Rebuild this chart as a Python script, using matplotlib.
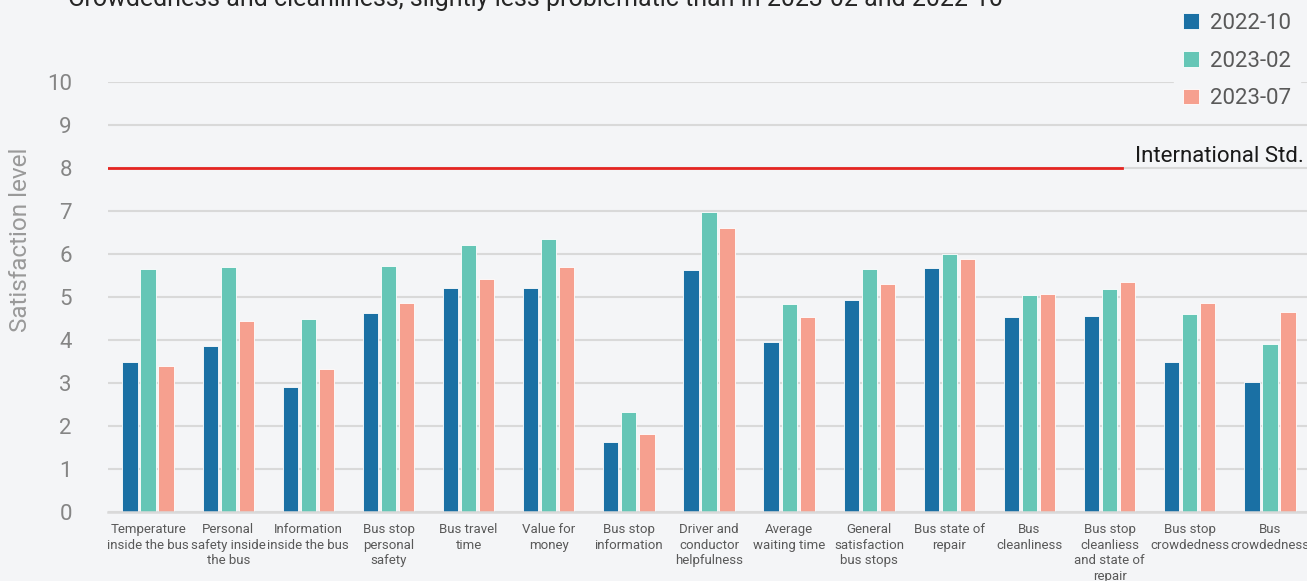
import matplotlib
matplotlib.use("Agg")
import matplotlib.pyplot as plt
import numpy as np
from matplotlib import font_manager

categories = [
    "Temperature\ninside the bus", "Personal\nsafety inside\nthe bus", "Information\ninside the bus",
    "Bus stop\npersonal\nsafety", "Bus travel\ntime", "Value for\nmoney", "Bus stop\ninformation",
    "Driver and\nconductor\nhelpfulness", "Average\nwaiting time", "General\nsatisfaction\nbus stops",
    "Bus state of\nrepair", "Bus\ncleanliness", "Bus stop\ncleanliess\nand state of\nrepair",
    "Bus stop\ncrowdedness", "Bus\ncrowdedness",
]
s_2022_10 = [3.48, 3.85, 2.91, 4.62, 5.22, 5.20, 1.63, 5.62, 3.95, 4.94, 5.67, 4.53, 4.55, 3.48, 3.02]
s_2023_02 = [5.64, 5.70, 4.50, 5.72, 6.22, 6.35, 2.33, 6.97, 4.84, 5.64, 6.01, 5.04, 5.18, 4.60, 3.90]
s_2023_07 = [3.40, 4.44, 3.33, 4.86, 5.41, 5.70, 1.81, 6.60, 4.53, 5.30, 5.88, 5.06, 5.36, 4.86, 4.65]
series_names = ["2022-10", "2023-02", "2023-07"]
intl_std = 8
title = "Crowdedness and cleanliness, slightly less problematic than in 2023-02 and 2022-10"

colors = ["#1a70a4", "#65c6b6", "#f6a08f"]
bg = "#f4f5f7"

names = {f.name for f in font_manager.fontManager.ttflist}
narrow = "Liberation Sans Narrow" if "Liberation Sans Narrow" in names else "Roboto"

W, H = 1307, 581
fig = plt.figure(figsize=(W / 100, H / 100), dpi=100, facecolor=bg)
ax = fig.add_axes([108 / W, 1 - 512 / H, 1202 / W, (512 - 82) / H])
ax.set_facecolor(bg)

x = np.arange(len(categories))
bw = 0.19
gap = 0.035
for i, (vals, c, n) in enumerate(zip([s_2022_10, s_2023_02, s_2023_07], colors, series_names)):
    ax.bar(x + (i - 1) * (bw + gap), vals, bw, color=c, label=n, edgecolor="#ffffff", linewidth=0.6, zorder=3)

ax.set_xlim(-0.5, len(categories) - 0.5)
ax.set_ylim(0, 10)
ax.set_yticks(range(0, 11))
ax.grid(axis="y", color="#d9d9d9", linewidth=1.5, zorder=0)
for sp in ["top", "right", "left"]:
    ax.spines[sp].set_visible(False)
ax.spines["bottom"].set_color("#d9d9d9")
ax.spines["bottom"].set_linewidth(1.8)
ax.spines["bottom"].set_zorder(4)
ax.tick_params(axis="both", length=0)
ax.tick_params(axis="y", pad=26, labelsize=16, labelcolor="#858585")
ax.set_xticks(x)
ax.set_xticklabels(categories, fontsize=9.5, color="#595959", family=narrow, linespacing=1.25)
ax.tick_params(axis="x", pad=8)
for lab in ax.get_yticklabels():
    lab.set_fontfamily(narrow)
ax.set_ylabel("Satisfaction level", fontsize=17.5, color="#999999", family=narrow)
ax.yaxis.set_label_coords(-0.063, (512 - 240) / 430)

ax.axhline(intl_std, xmin=0, xmax=(1122 - 108) / 1202, color="#e52521", linewidth=2, zorder=4)
ax.text((1135 - 108) / 1202, intl_std + 0.26, "International Std.", transform=ax.get_yaxis_transform(),
        fontsize=16, color="#1a1a1a", family=narrow, va="center", ha="left")

leg = fig.legend(loc="upper left", bbox_to_anchor=(1163 / W, 1.012), frameon=True, facecolor=bg,
                 edgecolor=bg, framealpha=1, handlelength=0.7,
                 handleheight=0.7, handletextpad=0.5, labelspacing=0.75, borderpad=0.4,
                 prop={"family": narrow, "size": 16})
for t in leg.get_texts():
    t.set_color("#595959")

fig.text(68 / W, 1 - 6 / H, title, fontsize=18, color="#262626", family=narrow, va="baseline", ha="left")

fig.savefig("out.png", dpi=100, facecolor=bg)
